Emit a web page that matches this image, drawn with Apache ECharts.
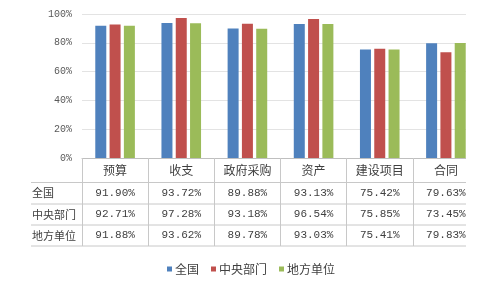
<!DOCTYPE html>
<html><head><meta charset="utf-8">
<script src="https://cdn.jsdelivr.net/npm/echarts@6/dist/echarts.min.js"></script>
<style>html,body{margin:0;padding:0;background:#fff}#c{width:492px;height:281px}</style>
</head><body><div id="c"></div>
<script>
const categories = ['预算', '收支', '政府采购', '资产', '建设项目', '合同'];
const seriesNames = ['全国', '中央部门', '地方单位'];
const national = [91.90, 93.72, 89.88, 93.13, 75.42, 79.63];
const central = [92.71, 97.28, 93.18, 96.54, 75.85, 73.45];
const local = [91.88, 93.62, 89.78, 93.03, 75.41, 79.83];
const yTicks = [0, 20, 40, 60, 80, 100];
const colors = ['#4F81BD', '#C0504D', '#9BBB59'];

const rows = [national, central, local];
const rowCenters = [193, 214.5, 235.5];
const axisTop = 158;
const numFont = '"Liberation Mono", "DejaVu Sans Mono", monospace';
const cjkFont = '"Noto Sans CJK SC", sans-serif';

const xAxes = [{
  type: 'category', data: categories, gridIndex: 0, position: 'bottom',
  axisLine: { lineStyle: { color: '#bfbfbf' } },
  axisTick: { show: true, alignWithLabel: false, length: 88, lineStyle: { color: '#c8c8c8' } },
  axisLabel: { interval: 0, margin: 12, verticalAlign: 'middle', color: '#404040', fontSize: 12, fontFamily: cjkFont }
}];
rows.forEach((vals, i) => {
  xAxes.push({
    type: 'category', data: categories, gridIndex: 0, position: 'bottom',
    offset: rowCenters[i] - axisTop,
    axisLine: { show: false }, axisTick: { show: false },
    axisLabel: { interval: 0, margin: 0, verticalAlign: 'middle', color: '#404040', fontSize: 11, fontFamily: numFont,
      formatter: (v, idx) => vals[idx].toFixed(2) + '%' }
  });
});

const graphics = [];
[182.5, 204, 225, 246].forEach(y => {
  graphics.push({ type: 'line', shape: { x1: 31, y1: y, x2: 479, y2: y }, style: { stroke: '#c8c8c8', lineWidth: 1 }, z: 10 });
});
seriesNames.forEach((n, i) => {
  graphics.push({ type: 'text', x: 32, y: rowCenters[i], style: { text: n, fill: '#404040', font: '11px ' + cjkFont, textVerticalAlign: 'middle' }, z: 10 });
});
graphics.push({ type: 'rect', shape: { x: 466, y: 0, width: 30, height: 252 }, style: { fill: '#fff' }, z: 100 });

const chart = echarts.init(document.getElementById('c'));
chart.setOption({
  animation: false,
  color: colors,
  grid: { left: 82, right: 13, top: 14, bottom: 123 },
  xAxis: xAxes,
  yAxis: {
    type: 'value', min: 0, max: 100, interval: 20,
    axisLine: { show: false }, axisTick: { show: false },
    splitLine: { lineStyle: { color: '#e3e3e3' } },
    axisLabel: { formatter: '{value}%', color: '#595959', fontSize: 10, fontFamily: numFont, margin: 10 }
  },
  legend: {
    left: 162, top: 258, itemWidth: 5, itemHeight: 5, itemGap: 12, icon: 'rect',
    textStyle: { color: '#404040', fontSize: 12, fontFamily: cjkFont, padding: [0, 0, 0, -2] },
    data: seriesNames
  },
  series: [national, central, local].map((d, i) => ({
    name: seriesNames[i], type: 'bar', xAxisIndex: 0, data: d,
    barWidth: 11, barGap: '30%'
  })),
  graphic: graphics
});
</script></body></html>
